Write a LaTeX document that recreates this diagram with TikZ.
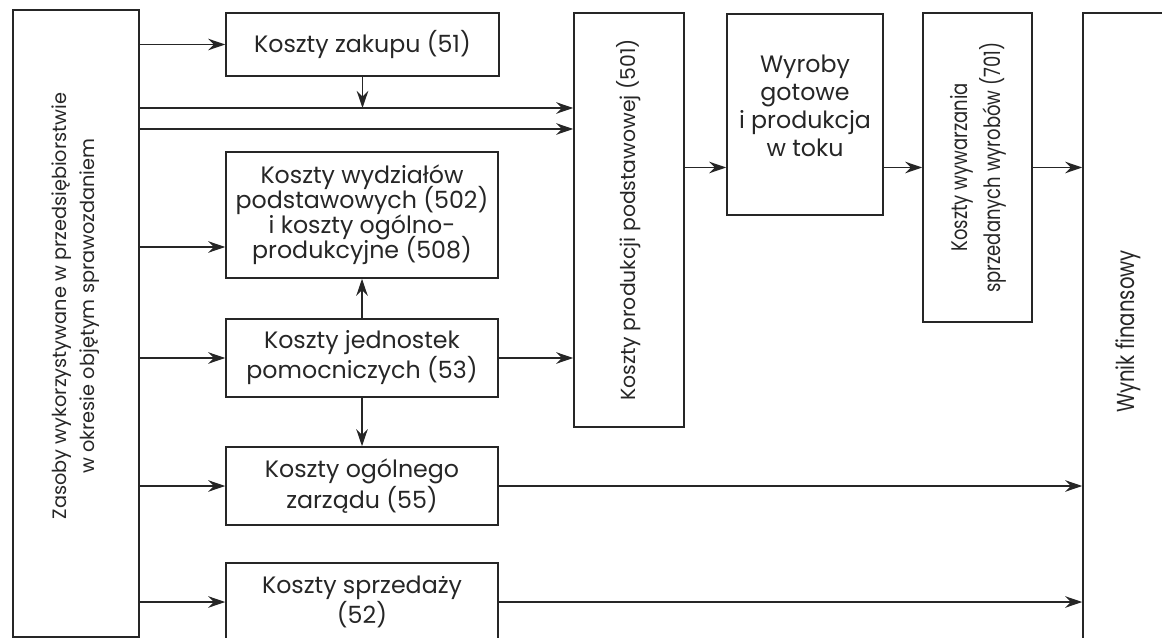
\documentclass[tikz,border=0pt]{standalone}
\usepackage{fontspec}
\usepackage{graphicx}
\setmainfont{Poppins}
\newfontfamily\narrowfont[FakeStretch=0.8]{Poppins}
\newcommand{\tightlines}{\lineskiplimit=-20pt\relax}
\usetikzlibrary{arrows.meta}

\begin{document}
\begin{tikzpicture}[x=0.02cm,y=-0.02cm,
    box/.style={draw=black!85,line width=0.9pt,inner sep=0pt,align=center,text=black!85,
      font=\fontsize{13.5}{14.5}\selectfont},
    arr/.style={draw=black!85,line width=0.9pt,-{Stealth[length=3.4mm,width=2.3mm]}}]
    \useasboundingbox (0,0) rectangle (1162,638);

    % lewa kolumna
    \node[box,minimum width=2.52cm,minimum height=12.54cm] (zasoby) at (76,323.5) {};
    \node[rotate=90,align=center,text=black!85,font=\fontsize{11}{16}\selectfont] (zasobytxt) at (76,306)
        {Zasoby wykorzystywane w przedsiębiorstwie\\w okresie objętym sprawozdaniem};

    % konta kosztów
    \node[box,minimum width=5.46cm,minimum height=1.26cm] (zakup) at (362.5,44.5) {Koszty zakupu (51)};
    \node[box,minimum width=5.44cm,minimum height=2.52cm,font=\fontsize{13.5}{14.2}\selectfont\tightlines] (wydz) at (362,215)
        {Koszty wydziałów\\podstawowych (502)\\i koszty ogólno-\\produkcyjne (508)};
    \node[box,minimum width=5.44cm,minimum height=1.56cm] (jedn) at (362,358) {Koszty jednostek\\pomocniczych (53)};
    \node[box,minimum width=5.44cm,minimum height=1.56cm] (zarzad) at (362,486) {Koszty ogólnego\\zarządu (55)};
    \node[box,minimum width=5.44cm,minimum height=1.56cm] (sprzed) at (362,602) {Koszty sprzedaży\\(52)};

    % produkcja
    \node[box,minimum width=2.2cm,minimum height=8.28cm] (prod) at (629,220)
        {\rotatebox{90}{\fontsize{11.6}{12}\selectfont Koszty produkcji podstawowej (501)}};
    \node[box,minimum width=3.12cm,minimum height=4.02cm,font=\fontsize{13.5}{16}\selectfont] (wyroby) at (805,114.5)
        {Wyroby\\gotowe\\i produkcja\\w toku\\[-6pt]};
    \node[box,minimum width=2.18cm,minimum height=6.18cm] (wywarz) at (977.5,167.5)
        {\rotatebox{90}{\narrowfont\fontsize{12.8}{19}\selectfont
         \begin{tabular}{@{}c@{}}Koszty wywarzania\\sprzedanych wyrobów (701)\end{tabular}}};
    \node[box,minimum width=1.8cm,minimum height=12.74cm] (wynik) at (1128,331.5)
        {\rotatebox{90}{\narrowfont\fontsize{14}{14}\selectfont Wynik finansowy}};

    \coordinate (linia1) at (139,108);
    \coordinate (linia2) at (139,129);
    \coordinate (wejscie) at (139,247);

    % strzałki
    \draw[arr] (zasoby.east |- zakup) -- (zakup.west);
    \draw[arr] (zakup.south) -- (zakup.south |- linia1);
    \draw[arr] (linia1) -- (prod.west |- linia1);
    \draw[arr] (linia2) -- (prod.west |- linia2);
    \draw[arr] (wejscie) -- (wydz.west |- wejscie);
    \draw[arr] (jedn.north) -- (wydz.south);
    \draw[arr] (zasoby.east |- jedn) -- (jedn.west);
    \draw[arr] (jedn.east) -- (jedn.east -| prod.west);
    \draw[arr] (jedn.south) -- (zarzad.north);
    \draw[arr] (zasoby.east |- zarzad) -- (zarzad.west);
    \draw[arr] (zarzad.east) -- (zarzad.east -| wynik.west);
    \draw[arr] (zasoby.east |- sprzed) -- (sprzed.west);
    \draw[arr] (sprzed.east) -- (sprzed.east -| wynik.west);
    \draw[arr] (prod.east |- wywarz) -- (wyroby.west |- wywarz);
    \draw[arr] (wyroby.east |- wywarz) -- (wywarz.west);
    \draw[arr] (wywarz.east) -- (wywarz.east -| wynik.west);
\end{tikzpicture}
\end{document}
